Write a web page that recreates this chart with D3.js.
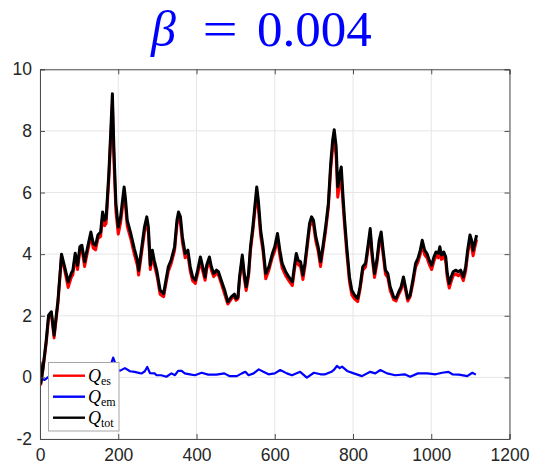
<!DOCTYPE html>
<html><head><meta charset="utf-8">
<script src="https://cdn.jsdelivr.net/npm/d3@7"></script>
<style>body{margin:0;background:#fff}svg{display:block}</style>
</head><body>
<svg id="c" width="534" height="466"></svg>
<script>
// ---- data ----
const steps = [0,2,8,16,22,29,36,46,55,63,72,80,84,90,96,102,107,114,121,130,136,142,148,155,160,165,169,176,181,185,189,194,200,206,215,218,223,232,241,249,252,258,267,273,277,282,287,292,299,307,316,322,328,335,344,350,354,359,364,371,378,384,390,397,403,410,415,422,426,433,438,444,451,456,463,472,480,489,497,501,506,510,517,522,527,533,538,544,549,554,558,564,570,577,585,594,600,607,613,619,628,636,645,650,655,660,666,672,677,683,689,694,699,705,711,717,723,730,737,743,748,752,757,761,765,770,774,778,784,791,797,804,812,818,825,832,838,844,849,855,861,867,872,876,883,889,895,904,910,917,923,929,934,940,946,953,960,966,972,977,983,989,995,1001,1007,1012,1018,1022,1026,1032,1037,1041,1046,1051,1056,1063,1069,1075,1082,1088,1093,1099,1103,1107,1111,1116];
const qTot = [0.51,-0.18,0.34,1.21,2.02,2.13,1.37,2.51,4.0,3.59,3.10,3.38,3.48,4.03,3.64,4.24,4.29,3.75,4.18,4.72,4.35,4.29,4.62,4.72,5.37,5.10,5.16,6.63,8.02,9.21,7.37,5.64,4.88,5.21,6.18,5.86,5.10,4.67,4.18,3.80,3.48,4.02,4.88,5.21,4.88,3.64,4.13,3.80,3.43,2.83,2.72,3.16,3.59,3.80,4.24,5.10,5.37,5.21,4.56,4.02,4.13,3.59,3.26,3.16,3.48,3.91,3.64,3.26,3.64,3.91,3.59,3.37,3.48,3.43,3.16,2.83,2.45,2.61,2.70,2.56,2.61,3.26,3.97,3.37,2.94,3.37,4.24,4.88,5.53,6.18,5.75,4.78,4.24,3.37,3.59,4.02,4.24,4.67,4.13,3.70,3.43,3.26,3.10,3.59,4.02,3.80,3.75,3.32,3.70,4.35,5.00,5.21,5.10,4.56,4.24,3.75,4.24,4.88,5.64,6.94,7.70,8.04,7.48,6.18,6.51,6.83,5.97,5.21,4.24,3.26,2.83,2.67,2.56,2.94,3.59,3.70,4.24,4.83,4.02,3.37,3.80,4.45,4.72,4.24,3.48,3.37,2.94,2.61,2.56,2.78,2.94,3.26,2.94,2.56,2.67,3.16,3.70,3.86,4.13,4.45,4.13,4.02,3.80,3.64,3.91,4.07,4.02,4.24,3.97,4.07,3.91,3.37,3.05,3.26,3.43,3.48,3.43,3.48,3.26,3.59,4.13,4.62,4.45,4.13,4.35,4.62];
const qEs = [0.45,-0.22,0.3,1.12,1.95,2.06,1.28,2.42,3.93,3.48,2.92,3.25,3.33,3.92,3.5,4.12,4.17,3.6,4.05,4.6,4.2,4.14,4.5,4.58,5.22,4.92,5.0,6.45,7.8,8.85,7.0,5.4,4.65,5.02,5.95,5.65,4.9,4.5,4.0,3.63,3.32,3.88,4.72,5.05,4.7,3.5,3.98,3.66,3.3,2.7,2.62,3.05,3.45,3.68,4.12,4.95,5.2,5.0,4.38,3.88,3.98,3.45,3.14,3.05,3.36,3.78,3.5,3.15,3.52,3.8,3.48,3.27,3.38,3.33,3.06,2.7,2.38,2.55,2.64,2.5,2.55,3.18,3.85,3.22,2.82,3.28,4.12,4.75,5.38,6.0,5.5,4.6,4.1,3.2,3.48,3.9,4.1,4.5,3.95,3.55,3.3,3.14,2.98,3.46,3.88,3.66,3.6,3.18,3.58,4.22,4.88,5.05,4.95,4.42,4.1,3.6,4.12,4.75,5.5,6.75,7.45,7.75,7.15,5.85,6.2,6.5,5.7,5.0,4.05,3.1,2.68,2.55,2.46,2.85,3.48,3.58,4.12,4.68,3.88,3.24,3.68,4.3,4.52,4.08,3.35,3.24,2.82,2.52,2.48,2.7,2.85,3.16,2.84,2.48,2.62,3.05,3.58,3.74,4.0,4.3,3.98,3.88,3.66,3.5,3.78,3.95,3.88,4.1,3.83,3.93,3.76,3.22,2.9,3.12,3.3,3.36,3.3,3.36,3.14,3.46,4.0,4.48,4.25,3.95,4.2,4.48];
const emSteps = [0,5,12,20,40,60,80,100,120,140,160,175,182,187,191,196,205,217,230,242,255,260,268,274,281,293,298,310,323,336,345,353,362,370,383,396,413,430,451,471,485,496,503,516,525,533,546,559,571,584,600,614,631,644,665,682,700,717,729,745,751,759,766,772,785,802,823,844,857,870,887,908,932,946,966,990,1011,1028,1044,1054,1071,1092,1105,1114];
const qEm = [0,-0.05,-0.08,0.0,0.1,0.15,0.12,0.18,0.15,0.2,0.22,0.3,0.45,0.64,0.5,0.24,0.22,0.3,0.2,0.18,0.14,0.13,0.2,0.34,0.14,0.13,0.07,0.07,0.02,0.13,0.07,0.21,0.21,0.13,0.1,0.07,0.15,0.09,0.09,0.13,0.04,0.04,0.04,0.13,0.18,0.07,0.13,0.26,0.18,0.1,0.13,0.24,0.13,0.07,0.18,-0.01,0.15,0.1,0.1,0.18,0.24,0.37,0.3,0.35,0.21,0.13,0.04,0.18,0.13,0.24,0.13,0.07,0.1,0.02,0.13,0.13,0.1,0.15,0.18,0.1,0.09,0.04,0.15,0.09];
const xTicks = [0,200,400,600,800,1000,1200];
const yTicks = [-2,0,2,4,6,8,10];
const seriesNames = ["es","em","tot"];
const seriesColors = ["#ff0000","#0000ff","#000000"];

// ---- drawing ----
const svg = d3.select("#c");
const L = 40, R = 509.5, T = 69.3, B = 439;
const x = d3.scaleLinear().domain([0,1200]).range([L,R]);
const y = d3.scaleLinear().domain([-2,10]).range([B,T]);

// grid
const g = svg.append("g");
g.selectAll(".gx").data(xTicks).join("line")
  .attr("x1",d=>x(d)).attr("x2",d=>x(d)).attr("y1",T).attr("y2",B)
  .attr("stroke","#e6e6e6").attr("stroke-width",1);
g.selectAll(".gy").data(yTicks).join("line")
  .attr("y1",d=>y(d)).attr("y2",d=>y(d)).attr("x1",L).attr("x2",R)
  .attr("stroke","#e6e6e6").attr("stroke-width",1);

// lines
const mk = (xs) => d3.line().x((d,i)=>x(xs[i])).y(d=>y(d));
svg.append("clipPath").attr("id","pc").append("rect")
  .attr("x",L).attr("y",T).attr("width",R-L).attr("height",B-T);
const lg = svg.append("g").attr("clip-path","url(#pc)");
lg.append("path").datum(qEs).attr("d",mk(steps)).attr("fill","none")
  .attr("stroke",seriesColors[0]).attr("stroke-width",3).attr("stroke-linejoin","round");
lg.append("path").datum(qEm).attr("d",mk(emSteps)).attr("fill","none")
  .attr("stroke",seriesColors[1]).attr("stroke-width",2.2).attr("stroke-linejoin","round");
lg.append("path").datum(qTot).attr("d",mk(steps)).attr("fill","none")
  .attr("stroke",seriesColors[2]).attr("stroke-width",3).attr("stroke-linejoin","round");

// axes
const axCol = "#4d4d4d";
const fontAx = "'Liberation Sans', Arial, sans-serif";
const ax = svg.append("g").attr("transform",`translate(0,${B})`)
  .call(d3.axisBottom(x).tickValues(xTicks).tickSize(-5).tickPadding(10).tickFormat(d3.format("d")));
const ay = svg.append("g").attr("transform",`translate(${L},0)`)
  .call(d3.axisLeft(y).tickValues(yTicks).tickSize(-5).tickPadding(8).tickFormat(d=>d<0?"-"+Math.abs(d):String(d)));
const at = svg.append("g").attr("transform",`translate(0,${T})`)
  .call(d3.axisTop(x).tickValues(xTicks).tickSize(-5).tickFormat(""));
const ar = svg.append("g").attr("transform",`translate(${R},0)`)
  .call(d3.axisRight(y).tickValues(yTicks).tickSize(-5).tickFormat(""));
[ax,ay,at,ar].forEach(a=>{
  a.select(".domain").attr("stroke",axCol).attr("stroke-width",1);
  a.selectAll(".tick line").attr("stroke",axCol);
  a.selectAll(".tick text").attr("fill","#262626").attr("font-family",fontAx).attr("font-size",17.5);
});

// title
const tf = "'Liberation Serif','DejaVu Serif',serif";
const tg = svg.append("g").attr("fill","#0000ff").attr("font-family",tf);
tg.append("text").attr("x",151).attr("y",46).attr("font-size",50).attr("font-style","italic").text("β");
tg.append("text").attr("transform","translate(220,46) scale(1.25,1)").attr("font-size",50).attr("text-anchor","middle").text("=");
tg.append("text").attr("x",257).attr("y",46).attr("font-size",51).text("0.004");

// legend
const leg = svg.append("g");
leg.append("rect").attr("x",48.5).attr("y",362.5).attr("width",70.5).attr("height",68.5)
  .attr("fill","#fff").attr("stroke","#a6a6a6").attr("stroke-width",1);
const rowsY = [375.7,396.7,417.7];
seriesNames.forEach((n,i)=>{
  leg.append("line").attr("x1",53).attr("x2",85).attr("y1",rowsY[i]).attr("y2",rowsY[i])
    .attr("stroke",seriesColors[i]).attr("stroke-width",2.4);
  const t = leg.append("text").attr("x",88).attr("y",rowsY[i]+6)
    .attr("font-family","'Liberation Serif','DejaVu Serif',serif").attr("font-size",18).attr("fill","#000");
  t.append("tspan").attr("font-style","italic").text("Q");
  t.append("tspan").attr("font-size",12).attr("dy",3).text(n);
});
</script>
</body></html>
